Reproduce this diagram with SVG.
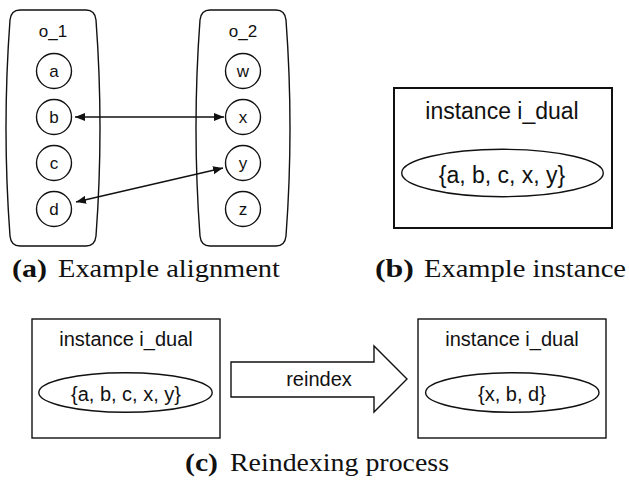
<svg xmlns="http://www.w3.org/2000/svg" width="629" height="480" viewBox="0 0 629 480">
<defs>
<style>
.sh{fill:none;stroke:#111;stroke-width:1.4}
.wh{fill:#fff;stroke:#111;stroke-width:1.4}
.t{font-family:"Liberation Sans",Arial,sans-serif;fill:#111;text-anchor:middle}
.cap{font-family:"Liberation Serif","Times New Roman",serif;fill:#111;font-size:25px}
.b{font-weight:bold}
.ln{fill:none;stroke:#111;stroke-width:1.3;marker-start:url(#ah);marker-end:url(#ah)}
</style>
<marker id="ah" viewBox="0 0 10 8" refX="10" refY="4" markerWidth="10" markerHeight="8" markerUnits="userSpaceOnUse" orient="auto-start-reverse">
<path d="M0,0 L10,4 L0,8 Z" fill="#111"/>
</marker>
</defs>
<rect width="629" height="480" fill="#fff"/>

<g id="o_1">
<path class="sh" d="M20,10 H86 Q95,10 96,20 Q104,128 96,236 Q95,246 86,246 H20 Q11,246 10,236 Q2,128 10,20 Q11,10 20,10 Z"/>
<text class="t" x="53" y="37" font-size="17">o_1</text>
</g>
<g id="o_2">
<path class="sh" d="M210,10 H276 Q285,10 286,20 Q294,128 286,236 Q285,246 276,246 H210 Q201,246 200,236 Q192,128 200,20 Q201,10 210,10 Z"/>
<text class="t" x="243" y="37" font-size="17">o_2</text>
</g>
<g id="a"><circle class="sh" cx="54" cy="71" r="17.5"/><text class="t" x="54" y="77" font-size="17">a</text></g>
<g id="b"><circle class="sh" cx="54" cy="117" r="17.5"/><text class="t" x="54" y="123" font-size="17">b</text></g>
<g id="c"><circle class="sh" cx="54" cy="163" r="17.5"/><text class="t" x="54" y="169" font-size="17">c</text></g>
<g id="d"><circle class="sh" cx="54" cy="209" r="17.5"/><text class="t" x="54" y="215" font-size="17">d</text></g>
<g id="w"><circle class="sh" cx="243" cy="71" r="17.5"/><text class="t" x="243" y="77" font-size="17">w</text></g>
<g id="x"><circle class="sh" cx="243" cy="117" r="17.5"/><text class="t" x="243" y="123" font-size="17">x</text></g>
<g id="y"><circle class="sh" cx="243" cy="163" r="17.5"/><text class="t" x="243" y="169" font-size="17">y</text></g>
<g id="z"><circle class="sh" cx="243" cy="209" r="17.5"/><text class="t" x="243" y="215" font-size="17">z</text></g>

<g id="connectors">
<line class="ln" x1="75" y1="117" x2="224" y2="117"/>
<line class="ln" x1="76" y1="202" x2="223" y2="168"/>
<path class="wh" d="M231,362 H374 V346 L407,379 L374,412 V397 H231 Z"/>
<text class="t" x="319" y="386" font-size="20">reindex</text>
</g>

<g id="instance_b">
<rect x="394" y="88" width="218" height="140" fill="none" stroke="#111" stroke-width="2"/>
<text class="t" x="502" y="119" font-size="23">instance i_dual</text>
<ellipse class="sh" cx="502.5" cy="173" rx="100.8" ry="23.7" stroke-width="1.8"/>
<text class="t" x="502" y="183" font-size="23">{a, b, c, x, y}</text>
</g>

<g id="instance_c1">
<rect class="sh" x="32" y="319" width="188" height="119"/>
<text class="t" x="126" y="346" font-size="20">instance i_dual</text>
<ellipse class="sh" cx="125.5" cy="392.5" rx="86.7" ry="19.8"/>
<text class="t" x="126" y="401" font-size="20">{a, b, c, x, y}</text>
</g>

<g id="instance_c2">
<rect class="sh" x="418" y="319" width="188" height="119"/>
<text class="t" x="512" y="346" font-size="20">instance i_dual</text>
<ellipse class="sh" cx="512.3" cy="392.5" rx="86.7" ry="19.8"/>
<text class="t" x="512" y="401" font-size="20">{x, b, d}</text>
</g>

<g id="captions">
<text class="cap b" x="12" y="277" textLength="35" lengthAdjust="spacingAndGlyphs">(a)</text>
<text class="cap" x="58" y="277" textLength="222" lengthAdjust="spacingAndGlyphs">Example alignment</text>
<text class="cap b" x="375" y="277" textLength="39" lengthAdjust="spacingAndGlyphs">(b)</text>
<text class="cap" x="424" y="277" textLength="202" lengthAdjust="spacingAndGlyphs">Example instance</text>
<text class="cap b" x="185" y="471" textLength="33" lengthAdjust="spacingAndGlyphs">(c)</text>
<text class="cap" x="230" y="471" textLength="219" lengthAdjust="spacingAndGlyphs">Reindexing process</text>
</g>
</svg>
